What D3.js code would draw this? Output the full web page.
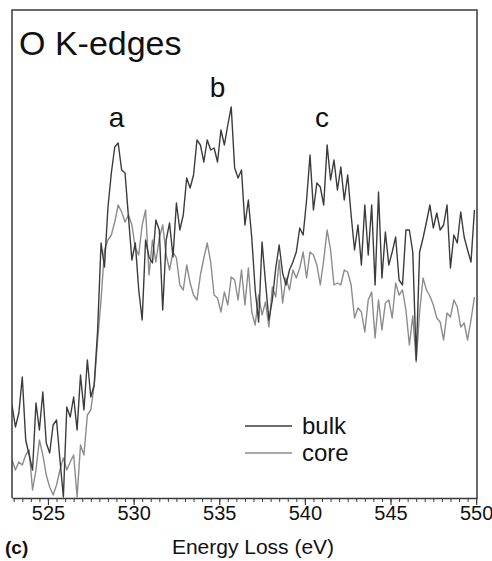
<!DOCTYPE html>
<html><head><meta charset="utf-8">
<script src="https://cdn.jsdelivr.net/npm/d3@7"></script>
<style>
html,body{margin:0;padding:0;background:#fff;}
svg{display:block;font-family:"Liberation Sans",Arial,sans-serif;}
</style></head>
<body>
<svg id="chart" width="492" height="561"></svg>
<script>
// Energy grid (eV)
const energyStart = 522.9;
const energyStep = 0.2;
// bulk intensity (arb. units)
const bulk = [93,71,85,121,58,43,28,95,68,106,
55,45,73,78,38,1,91,81,101,68,
123,88,138,101,113,168,255,231,290,325,
351,355,328,325,281,238,255,208,178,258,
241,235,278,268,188,258,275,241,295,268,
283,320,310,323,358,353,336,358,348,350,
336,368,353,373,391,330,320,328,273,298,
260,208,176,256,216,178,198,230,253,225,
213,228,236,246,270,263,298,343,288,315,
311,293,353,318,338,308,331,298,323,283,
248,273,233,293,243,293,213,306,220,266,
233,246,261,218,213,268,268,246,138,246,
260,276,293,270,285,268,273,293,230,263,
255,286,261,248,236,288];
// core intensity (arb. units)
const core = [38,28,36,33,43,48,8,28,58,43,
23,11,3,13,28,40,28,36,43,1,
53,43,83,88,113,158,198,248,258,263,
276,293,286,276,283,273,250,243,273,288,
223,258,236,260,273,243,228,246,240,213,
208,233,215,203,198,223,240,255,236,203,
200,186,206,193,221,218,198,228,193,230,
186,173,203,183,196,171,211,201,238,195,
220,208,228,220,230,246,220,246,243,233,
213,238,268,248,213,215,213,228,226,213,
180,190,186,166,198,206,160,198,168,195,
198,180,215,203,208,188,153,182,136,186,
220,208,202,193,180,176,158,185,181,198,
191,171,175,158,178,201];
const majorTicks = [525,530,535,540,545,550];
const peakLabels = [{t:"a", e:529.0, v:371}, {t:"b", e:534.9, v:401}, {t:"c", e:541.0, v:371}];
const seriesNames = ["bulk","core"];
const colors = {bulk:"#3c3c3c", core:"#8c8c8c"};

const energies = bulk.map((d,i)=> +(energyStart + i*energyStep).toFixed(1));

const svg = d3.select("#chart");
const L=12, R=477, T=10, B=498;
const x = d3.scaleLinear().domain([522.9, 550.05]).range([L, R]);
const y = d3.scaleLinear().domain([0, 488]).range([B, T]);

svg.append("defs").append("clipPath").attr("id","clip")
  .append("rect").attr("x",L).attr("y",T).attr("width",R-L).attr("height",B-T);

const line = d3.line().x((d,i)=>x(energies[i])).y(d=>y(d));

svg.append("path").datum(core).attr("clip-path","url(#clip)")
  .attr("fill","none").attr("stroke",colors.core).attr("stroke-width",1.4)
  .attr("stroke-linejoin","round").attr("d",line);
svg.append("path").datum(bulk).attr("clip-path","url(#clip)")
  .attr("fill","none").attr("stroke",colors.bulk).attr("stroke-width",1.4)
  .attr("stroke-linejoin","round").attr("d",line);

// frame
svg.append("path").attr("fill","none").attr("stroke","#3a3a3a").attr("stroke-width",1.5)
  .attr("d",`M${L},${B}V${T}H${R}V${B}`);

// minor ticks
const minor = d3.range(523, 550.01, 0.5);
svg.append("g").attr("transform",`translate(0,${B})`)
  .call(d3.axisBottom(x).tickValues(minor).tickSize(4).tickFormat(""))
  .call(g=>g.select(".domain").remove())
  .call(g=>g.selectAll("line").attr("stroke","#3a3a3a").attr("stroke-width",1));
// major axis
const ax = svg.append("g").attr("transform",`translate(0,${B})`)
  .call(d3.axisBottom(x).tickValues(majorTicks).tickSize(7).tickSizeOuter(0).tickPadding(1).tickFormat(d3.format("d")));
ax.select(".domain").attr("stroke","#3a3a3a").attr("stroke-width",1.5);
ax.selectAll("line").attr("stroke","#3a3a3a").attr("stroke-width",1.2);
ax.selectAll("text").attr("font-size",20).attr("fill","#111").attr("font-family","Liberation Sans, Arial, sans-serif");

// axis title
svg.append("text").attr("x",253).attr("y",554).attr("text-anchor","middle")
  .attr("font-size",21).attr("fill","#111").text("Energy Loss (eV)");
svg.append("text").attr("x",5).attr("y",554).attr("font-size",19).attr("font-weight","bold")
  .attr("fill","#111").text("(c)");

// title
svg.append("text").attr("x",19).attr("y",55).attr("font-size",34).attr("fill","#111").text("O K-edges");

// peak labels
svg.selectAll(".pk").data(peakLabels).enter().append("text")
  .attr("x",d=>x(d.e)).attr("y",d=>y(d.v)).attr("text-anchor","middle")
  .attr("font-size",28).attr("fill","#111").text(d=>d.t);

// legend
const lg = svg.append("g");
seriesNames.forEach((n,i)=>{
  const yy = 426 + i*27;
  lg.append("line").attr("x1",245).attr("x2",292).attr("y1",yy).attr("y2",yy)
    .attr("stroke",colors[n]).attr("stroke-width",1.6);
  lg.append("text").attr("x",302).attr("y",yy+8).attr("font-size",24).attr("fill","#111").text(n);
});
</script>
</body></html>
